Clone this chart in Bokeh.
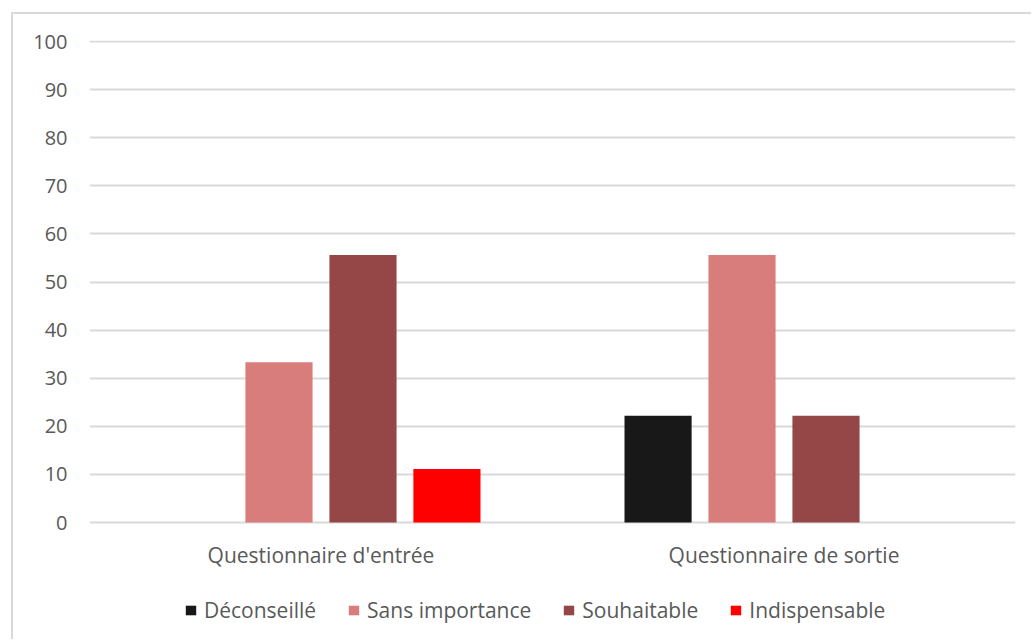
from bokeh.plotting import figure
from bokeh.models import (ColumnDataSource, FactorRange, Range1d, Legend, LegendItem,
                          FixedTicker)
from bokeh.transform import dodge
from bokeh.embed import file_html
from bokeh.resources import INLINE

# Survey responses (% of answers) before and after
questionnaires = ["Questionnaire d'entrée", "Questionnaire de sortie"]
deconseille = [0.0, 22.2]
sans_importance = [33.3, 55.6]
souhaitable = [55.6, 22.2]
indispensable = [11.1, 0.0]
y_ticks = [0, 10, 20, 30, 40, 50, 60, 70, 80, 90, 100]

series_names = ["Déconseillé", "Sans importance", "Souhaitable", "Indispensable"]
series_keys = ["deconseille", "sans_importance", "souhaitable", "indispensable"]
series_colors = ["#181818", "#d87d7b", "#954646", "#ff0000"]

FONT = "Open Sans"
TEXT_COLOR = "#595959"
GRID_COLOR = "#d9d9d9"

source = ColumnDataSource(data=dict(
    q=questionnaires,
    deconseille=deconseille,
    sans_importance=sans_importance,
    souhaitable=souhaitable,
    indispensable=indispensable,
))

# the chart sits inside a light frame whose left and top edges show;
# the plot area runs down to the bottom so the legend can sit inside it
OX, OY = 13, 14
p = figure(
    frame_width=926, frame_height=601,
    x_range=FactorRange(*questionnaires, range_padding=0.0),
    y_range=Range1d(-24.74, 100.21),
    output_backend="svg", toolbar_location=None,
    min_border_left=89 - OX, min_border_right=18,
    min_border_top=40 - OY, min_border_bottom=0,
)
p.margin = (0, 0, 0, 0)
p.styles = {
    "position": "absolute",
    "left": f"{OX}px",
    "top": f"{OY}px",
    "box-shadow": f"-2px -2px 0 0 {GRID_COLOR}",
}
p.background_fill_color = "white"
p.border_fill_color = "white"
p.outline_line_color = None

offsets = [-0.272, -0.0907, 0.0907, 0.272]
bar_width = 0.145
renderers = []
for key, off, col in zip(series_keys, offsets, series_colors):
    r = p.vbar(x=dodge("q", off, range=p.x_range), top=key, bottom=0,
               width=bar_width, source=source, fill_color=col, line_color=None)
    renderers.append(r)

# axes
p.yaxis.ticker = FixedTicker(ticks=y_ticks)
p.yaxis.axis_line_color = None
p.yaxis.major_tick_line_color = None
p.yaxis.minor_tick_line_color = None
p.yaxis.major_label_standoff = 16
p.yaxis.major_label_text_font = FONT
p.yaxis.major_label_text_font_size = "20px"
p.yaxis.major_label_text_color = TEXT_COLOR

# category axis pinned to the zero line
p.xaxis.fixed_location = 0
p.xaxis.axis_line_color = None
p.xaxis.major_tick_line_color = None
p.xaxis.minor_tick_line_color = None
p.xaxis.major_label_standoff = 12
p.xaxis.major_label_text_font = FONT
p.xaxis.major_label_text_font_size = "21px"
p.xaxis.major_label_text_color = TEXT_COLOR

p.xgrid.grid_line_color = None
p.ygrid.grid_line_color = GRID_COLOR
p.ygrid.grid_line_width = 2

legend = Legend(
    items=[LegendItem(label=n, renderers=[r]) for n, r in zip(series_names, renderers)],
    orientation="horizontal",
    location=(95, 17),
    glyph_width=13, glyph_height=12,
    label_standoff=7, spacing=31,
    padding=0, margin=0,
    border_line_color=None, background_fill_alpha=0,
    label_text_font=FONT, label_text_font_size="21px", label_text_color=TEXT_COLOR,
)
p.add_layout(legend, "center")

open("out.html", "w").write(file_html(p, INLINE))
